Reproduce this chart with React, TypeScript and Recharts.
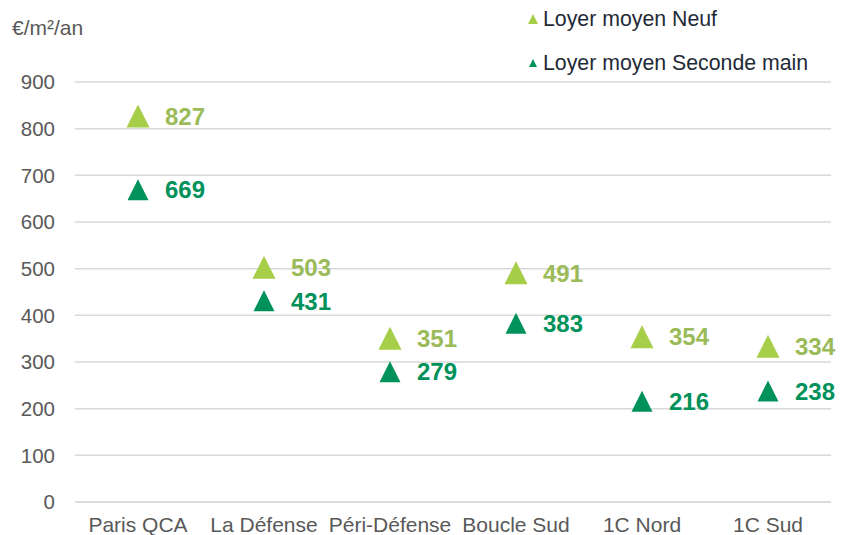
import React from 'react';
import { ComposedChart, Scatter, XAxis, YAxis, CartesianGrid, Legend, LabelList, Label } from 'recharts';

const categories = ['Paris QCA', 'La Défense', 'Péri-Défense', 'Boucle Sud', '1C Nord', '1C Sud'];
const neuf = [827, 503, 351, 491, 354, 334];
const seconde = [669, 431, 279, 383, 216, 238];
const yTicks = [0, 100, 200, 300, 400, 500, 600, 700, 800, 900];

const NEUF_COLOR = '#A6CE48';
const NEUF_LABEL = '#9BBB59';
const SEC_COLOR = '#00925A';
const FONT = '"Liberation Sans", Arial, sans-serif';

const data = categories.map((name, i) => ({ name, neuf: neuf[i], seconde: seconde[i] }));

const makeTriangle = (size: number, color: string) => (props: any) => {
  const { cx, cy } = props;
  const h = size / 2;
  return <path d={`M${cx},${cy - h} L${cx + h},${cy + h} L${cx - h},${cy + h} Z`} fill={color} />;
};

const makeLabel = (color: string) => (props: any) => {
  const { x, y, width, height, value } = props;
  const cx = x + (width || 0) / 2;
  const cy = y + (height || 0) / 2;
  return (
    <text x={cx + 27} y={cy} dy="0.36em" fill={color} fontSize={24} fontWeight="bold" fontFamily={FONT} textAnchor="start">
      {value}
    </text>
  );
};

const LegendContent = () => (
  <div style={{ position: 'relative', height: 0, fontFamily: FONT, fontSize: 21.3, color: '#1F2A37', lineHeight: '24px' }}>
    <div style={{ position: 'absolute', left: 0, top: 7, display: 'flex', alignItems: 'center', whiteSpace: 'nowrap' }}>
      <svg width={14} height={14} style={{ marginRight: 3 }}>
        <path d="M7,2 L12,12 L2,12 Z" fill={NEUF_COLOR} />
      </svg>
      <span>Loyer moyen Neuf</span>
    </div>
    <div style={{ position: 'absolute', left: 0, top: 51, display: 'flex', alignItems: 'center', whiteSpace: 'nowrap' }}>
      <svg width={14} height={14} style={{ marginRight: 3 }}>
        <path d="M7,3 L11,11 L3,11 Z" fill={SEC_COLOR} />
      </svg>
      <span>Loyer moyen Seconde main</span>
    </div>
  </div>
);

export default function App() {
  return (
    <div style={{ position: 'absolute', left: 0, top: 0 }}>
      <ComposedChart width={849} height={535} data={data} margin={{ top: 82, right: 18, bottom: 0, left: 0 }}>
        <CartesianGrid vertical={false} stroke="#D9D9D9" strokeWidth={1.5} />
        <XAxis
          dataKey="name"
          type="category"
          height={33}
          padding={{ left: 63, right: 63 }}
          tickLine={false}
          axisLine={{ stroke: '#D9D9D9', strokeWidth: 1.5 }}
          tickSize={0}
          tickMargin={15}
          interval={0}
          tick={{ fill: '#595959', fontSize: 21, fontFamily: FONT }}
        />
        <YAxis
          type="number"
          domain={[0, 900]}
          ticks={yTicks}
          width={75}
          tickLine={false}
          axisLine={false}
          tickSize={0}
          tickMargin={20}
          tick={{ fill: '#595959', fontSize: 20.5, fontFamily: FONT }}
        >
          <Label
            content={() => (
              <text x={12} y={27} dy="0.36em" fill="#595959" fontSize={21} fontFamily={FONT}>
                €/m²/an
              </text>
            )}
          />
        </YAxis>
        <Legend
          verticalAlign="top"
          align="right"
          content={<LegendContent />}
          wrapperStyle={{ position: 'absolute', left: 526, top: 0, width: 320, height: 0 }}
        />
        <Scatter name="Loyer moyen Neuf" dataKey="neuf" fill={NEUF_COLOR} shape={makeTriangle(23, NEUF_COLOR)} isAnimationActive={false}>
          <LabelList dataKey="neuf" content={makeLabel(NEUF_LABEL)} />
        </Scatter>
        <Scatter name="Loyer moyen Seconde main" dataKey="seconde" fill={SEC_COLOR} shape={makeTriangle(21, SEC_COLOR)} isAnimationActive={false}>
          <LabelList dataKey="seconde" content={makeLabel(SEC_COLOR)} />
        </Scatter>
      </ComposedChart>
    </div>
  );
}
